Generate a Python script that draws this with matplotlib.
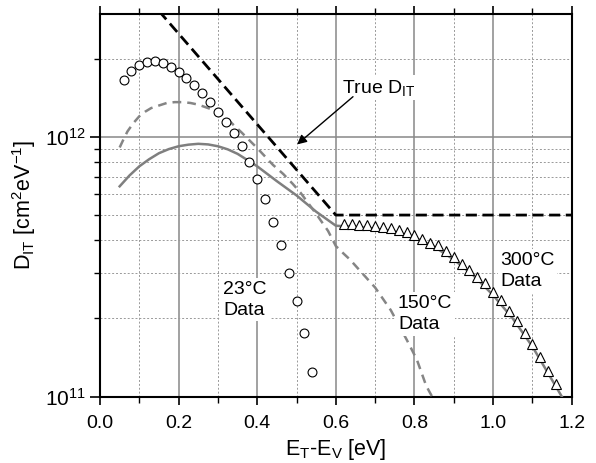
import matplotlib
matplotlib.use('Agg')
import matplotlib.pyplot as plt
import numpy as np
from matplotlib.ticker import FixedLocator, NullFormatter

plt.rcParams['font.family'] = ['Liberation Sans', 'DejaVu Sans']
plt.rcParams['mathtext.fontset'] = 'custom'
plt.rcParams['mathtext.rm'] = 'Liberation Sans'
plt.rcParams['mathtext.it'] = 'Liberation Sans:italic'
plt.rcParams['mathtext.bf'] = 'Liberation Sans:bold'

# true DIT (dashed black)
true_x = [0.15, 0.6, 1.2]
true_y = [3.05e12, 5.0e11, 5.0e11]

# 23 C data (circles)
c23_x = [0.06, 0.08, 0.10, 0.12, 0.14, 0.16, 0.18, 0.20, 0.22, 0.24, 0.26, 0.28, 0.30,
         0.32, 0.34, 0.36, 0.38, 0.40, 0.42, 0.44, 0.46, 0.48, 0.50, 0.52, 0.54]
c23_y = [1.66e12, 1.79e12, 1.89e12, 1.94e12, 1.95e12, 1.92e12, 1.86e12, 1.78e12, 1.69e12,
         1.58e12, 1.47e12, 1.36e12, 1.25e12, 1.14e12, 1.03e12, 9.2e11, 7.97e11, 6.9e11,
         5.75e11, 4.72e11, 3.83e11, 2.99e11, 2.33e11, 1.76e11, 1.25e11]

# 150 C data (gray dashed)
c150_x = [0.05, 0.06, 0.07, 0.085, 0.10, 0.115, 0.13, 0.15, 0.17, 0.19, 0.21, 0.23, 0.25,
          0.275, 0.30, 0.32, 0.34, 0.36, 0.38, 0.40, 0.42, 0.44, 0.466, 0.49, 0.51, 0.53,
          0.55, 0.58, 0.60, 0.62, 0.636, 0.666, 0.70, 0.74, 0.78, 0.806, 0.83, 0.845]
c150_y = [9.1e11, 9.8e11, 1.05e12, 1.13e12, 1.2e12, 1.25e12, 1.29e12, 1.32e12, 1.35e12,
          1.36e12, 1.36e12, 1.35e12, 1.33e12, 1.29e12, 1.25e12, 1.19e12, 1.11e12, 1.04e12,
          9.7e11, 9.05e11, 8.4e11, 7.8e11, 7.2e11, 6.6e11, 6.1e11, 5.55e11, 5.05e11,
          4.35e11, 3.8e11, 3.55e11, 3.37e11, 3.0e11, 2.63e11, 2.15e11, 1.66e11, 1.39e11,
          1.1e11, 1.0e11]

# fit (gray solid)
fit_x = [0.05, 0.075, 0.10, 0.125, 0.15, 0.175, 0.20, 0.225, 0.25, 0.275, 0.30, 0.325,
         0.35, 0.38, 0.40, 0.45, 0.50, 0.55, 0.60, 0.65, 0.70, 0.75, 0.80, 0.85, 0.90,
         0.95, 1.00, 1.05, 1.10, 1.15, 1.175]
fit_y = [6.45e11, 7.1e11, 7.7e11, 8.2e11, 8.65e11, 8.97e11, 9.2e11, 9.33e11, 9.4e11,
         9.35e11, 9.2e11, 8.95e11, 8.6e11, 8.05e11, 7.7e11, 6.75e11, 5.95e11, 5.15e11,
         4.55e11, 4.5e11, 4.43e11, 4.32e11, 4.1e11, 3.78e11, 3.37e11, 2.93e11, 2.46e11,
         2.0e11, 1.56e11, 1.16e11, 1.0e11]

# 300 C data (triangles)
c300_x = [0.62, 0.64, 0.66, 0.68, 0.70, 0.72, 0.74, 0.76, 0.78, 0.80, 0.82, 0.84, 0.86, 0.88,
          0.90, 0.92, 0.94, 0.96, 0.98, 1.00, 1.02, 1.04, 1.06, 1.08, 1.10, 1.12, 1.14, 1.16]
c300_y = [4.62e11, 4.62e11, 4.59e11, 4.56e11, 4.54e11, 4.51e11, 4.46e11, 4.39e11, 4.30e11,
          4.2e11, 4.05e11, 3.92e11, 3.82e11, 3.65e11, 3.45e11, 3.25e11, 3.08e11, 2.90e11,
          2.74e11, 2.52e11, 2.35e11, 2.14e11, 1.96e11, 1.76e11, 1.60e11, 1.42e11, 1.26e11,
          1.12e11]

fig = plt.figure(figsize=(5.96, 4.63), dpi=100)
ax = fig.add_axes([0.1678, 0.1432, 0.7914, 0.8266])
ax.set_yscale('log')
ax.set_xlim(0, 1.2)
ax.set_ylim(1e11, 2.97e12)

# grid
for xv in [0.2, 0.4, 0.6, 0.8, 1.0]:
    ax.axvline(xv, color='#888888', lw=1.1, zorder=1)
for xv in [0.1, 0.3, 0.5, 0.7, 0.9, 1.1]:
    ax.axvline(xv, color='#999999', lw=0.7, ls=(0, (2, 2)), zorder=1)
ax.axhline(1e12, color='#888888', lw=1.1, zorder=1)
for yv in [2e11, 3e11, 4e11, 5e11, 6e11, 7e11, 8e11, 9e11, 2e12]:
    ax.axhline(yv, color='#999999', lw=0.7, ls=(0, (2, 2)), zorder=1)

ax.plot(fit_x, fit_y, color='#7f7f7f', lw=1.8, zorder=3)
ax.plot(c150_x, c150_y, color='#858585', lw=1.8, ls=(0, (3.5, 2.4)), zorder=3)
ax.plot(true_x, true_y, color='black', lw=2, ls=(0, (4, 2)), zorder=4)
ax.plot(c23_x, c23_y, 'o', ms=6.4, mfc='white', mec='black', mew=0.8, zorder=5)
ax.plot(c300_x, c300_y, '^', ms=7.5, mfc='white', mec='black', mew=0.8, zorder=5)

box = dict(facecolor='white', edgecolor='none', pad=2)
ax.text(0.369, 2.36e11, '23°C\nData', fontsize=14, ha='center', va='center',
        multialignment='left', linespacing=1.3, bbox=box, zorder=6)
ax.text(0.827, 2.08e11, '150°C\nData', fontsize=14, ha='center', va='center',
        multialignment='left', linespacing=1.3, bbox=box, zorder=6)
ax.text(1.0875, 3.05e11, '300°C\nData', fontsize=14, ha='center', va='center',
        multialignment='left', linespacing=1.3, bbox=box, zorder=6)
ax.text(0.615, 1.48e12, r'True D$_\mathrm{IT}$', fontsize=14, ha='left', va='baseline',
        bbox=box, zorder=6)
ax.annotate('', xy=(0.496, 9.2e11), xytext=(0.649, 1.45e12),
            arrowprops=dict(arrowstyle='-|>', color='black', lw=1, mutation_scale=14),
            zorder=6)

# ticks
ax.set_xticks([0.0, 0.2, 0.4, 0.6, 0.8, 1.0, 1.2])
ax.set_xticklabels(['0.0', '0.2', '0.4', '0.6', '0.8', '1.0', '1.2'])
ax.xaxis.set_minor_locator(FixedLocator([0.1, 0.3, 0.5, 0.7, 0.9, 1.1]))
ax.set_yticks([1e11, 1e12])
ax.set_yticklabels([r'10$^{11}$', r'10$^{12}$'])
ax.yaxis.set_minor_locator(FixedLocator([2e11, 3e11, 4e11, 5e11, 6e11, 7e11, 8e11, 9e11, 2e12]))
ax.yaxis.set_minor_formatter(NullFormatter())
ax.tick_params(axis='x', which='major', direction='out', length=6, width=1.2,
               top=True, labelsize=14, pad=7)
ax.tick_params(axis='x', which='minor', direction='out', length=4, width=1, top=True)
ax.tick_params(axis='y', which='major', direction='out', length=7, width=1.2,
               right=False, labelsize=15, pad=3)
ax.tick_params(axis='y', which='minor', direction='out', length=4, width=1, right=False)
for s in ax.spines.values():
    s.set_linewidth(1.5)

ax.set_xlabel(r'E$_\mathrm{T}$-E$_\mathrm{V}$ [eV]', fontsize=15.5, labelpad=4)
ax.set_ylabel(r'D$_\mathrm{IT}$ [cm$^\mathrm{2}$eV$^\mathrm{-1}$]', fontsize=15.5, labelpad=5)

fig.savefig('out.png', dpi=100)
